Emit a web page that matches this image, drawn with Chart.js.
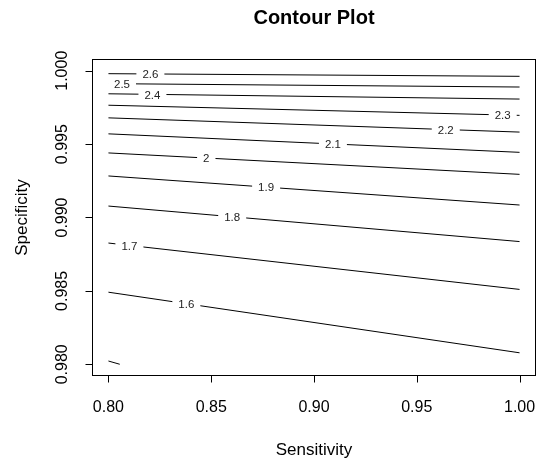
<!DOCTYPE html>
<html lang="en">
<head>
<meta charset="UTF-8">
<title>Contour Plot</title>
<script src="https://cdn.jsdelivr.net/npm/chart.js"></script>
<style>
  body { margin: 0; background: white; }
</style>
</head>
<body>
<canvas id="myChart" width="538" height="465"></canvas>
<script>
// contour levels and where each line crosses sensitivity 0.80 and 1.00
var levels = [2.6, 2.5, 2.4, 2.3, 2.2, 2.1, 2.0, 1.9, 1.8, 1.7, 1.6];
var levelText = ['2.6', '2.5', '2.4', '2.3', '2.2', '2.1', '2', '1.9', '1.8', '1.7', '1.6'];
var sensEnds = [0.80, 1.00];
var specAtLow = [0.99980, 0.99912, 0.99843, 0.99765, 0.99679, 0.99570, 0.99440, 0.99283, 0.99078, 0.98826, 0.98491];
var specAtHigh = [0.99962, 0.99889, 0.99807, 0.99696, 0.99582, 0.99444, 0.99294, 0.99085, 0.98836, 0.98510, 0.98078];
// sensitivity where each label sits on its line
var labelSens = [0.8204, 0.8066, 0.8214, 0.9918, 0.9641, 0.9092, 0.8476, 0.8767, 0.8602, 0.8102, 0.8379];

// the short piece of the 1.5 contour in the lower left corner
var lowSens = [0.8000, 0.8055];
var lowSpec = [0.98022, 0.98000];

var xTicks = [0.80, 0.85, 0.90, 0.95, 1.00];
var yTicks = [0.980, 0.985, 0.990, 0.995, 1.000];

var FONT = "'Liberation Sans', Arial, Helvetica, sans-serif";

var datasets = [];
for (var i = 0; i < levels.length; i++) {
    datasets.push({
        label: levelText[i],
        data: [{x: sensEnds[0], y: specAtLow[i]}, {x: sensEnds[1], y: specAtHigh[i]}],
        borderColor: '#000',
        borderWidth: 1,
        pointRadius: 0,
        showLine: true,
        fill: false
    });
}
datasets.push({
    label: '1.5',
    data: [{x: lowSens[0], y: lowSpec[0]}, {x: lowSens[1], y: lowSpec[1]}],
    borderColor: '#000',
    borderWidth: 1,
    pointRadius: 0,
    showLine: true,
    fill: false
});

var rPlot = {
    id: 'rPlot',
    afterDatasetsDraw: function(chart) {
        var ctx = chart.ctx;
        var xs = chart.scales.x, ys = chart.scales.y;
        var a = chart.chartArea;
        ctx.save();

        // contour labels, cut into the lines
        ctx.font = '11.5px ' + FONT;
        ctx.textAlign = 'center';
        ctx.textBaseline = 'middle';
        for (var i = 0; i < levels.length; i++) {
            var t = (labelSens[i] - sensEnds[0]) / (sensEnds[1] - sensEnds[0]);
            var sp = specAtLow[i] + t * (specAtHigh[i] - specAtLow[i]);
            var px = xs.getPixelForValue(labelSens[i]);
            var py = ys.getPixelForValue(sp);
            var w = ctx.measureText(levelText[i]).width;
            ctx.fillStyle = '#fff';
            ctx.fillRect(px - w / 2 - 6, py - 5, w + 12, 10);
            ctx.fillStyle = '#222';
            ctx.fillText(levelText[i], px, py + 1);
        }

        // box
        ctx.strokeStyle = '#000';
        ctx.lineWidth = 1;
        var L = Math.round(a.left) + 0.5, T = Math.round(a.top) + 0.5;
        var R = Math.round(a.right) - 0.5, B = Math.round(a.bottom) - 0.5;
        ctx.strokeRect(L, T, R - L, B - T);

        // x axis
        ctx.beginPath();
        xTicks.forEach(function(v) {
            var px = Math.round(xs.getPixelForValue(v)) + 0.5;
            ctx.moveTo(px, B);
            ctx.lineTo(px, B + 7);
        });
        ctx.stroke();
        ctx.fillStyle = '#000';
        ctx.font = '16px ' + FONT;
        ctx.textAlign = 'center';
        ctx.textBaseline = 'middle';
        xTicks.forEach(function(v) {
            ctx.fillText(v.toFixed(2), xs.getPixelForValue(v), 408);
        });

        // y axis
        ctx.beginPath();
        yTicks.forEach(function(v) {
            var py = Math.round(ys.getPixelForValue(v)) + 0.5;
            ctx.moveTo(L, py);
            ctx.lineTo(L - 7, py);
        });
        ctx.stroke();
        yTicks.forEach(function(v) {
            ctx.save();
            ctx.translate(63, ys.getPixelForValue(v));
            ctx.rotate(-Math.PI / 2);
            ctx.fillText(v.toFixed(3), 0, 0);
            ctx.restore();
        });

        // axis titles
        ctx.font = '17px ' + FONT;
        ctx.fillText('Sensitivity', (a.left + a.right) / 2, 450);
        ctx.save();
        ctx.translate(22, (a.top + a.bottom) / 2);
        ctx.rotate(-Math.PI / 2);
        ctx.fillText('Specificity', 0, 0);
        ctx.restore();

        // title
        ctx.font = 'bold 20px ' + FONT;
        ctx.fillText('Contour Plot', (a.left + a.right) / 2, 18);

        ctx.restore();
    }
};

var myChart = new Chart(document.getElementById('myChart'), {
    type: 'scatter',
    data: { datasets: datasets },
    options: {
        responsive: false,
        animation: false,
        layout: { padding: { left: 92, right: 2, top: 59, bottom: 89 } },
        plugins: { legend: { display: false }, tooltip: { enabled: false }, title: { display: false } },
        scales: {
            x: { type: 'linear', min: 0.792, max: 1.008, display: false },
            y: { type: 'linear', min: 0.9792, max: 1.0008, display: false }
        }
    },
    plugins: [rPlot]
});
</script>
</body>
</html>
